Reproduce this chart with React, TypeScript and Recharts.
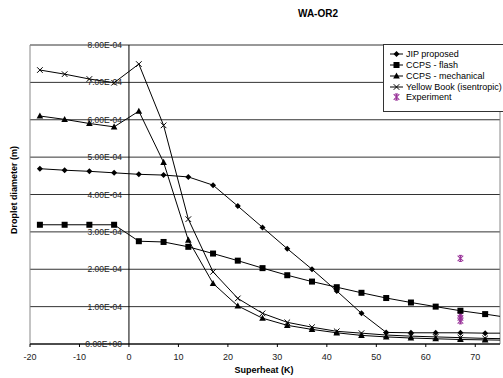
import { ComposedChart, Line, Scatter, XAxis, YAxis, CartesianGrid, ReferenceLine, Legend } from 'recharts';

const superheat = [-18, -13, -8, -3, 2, 7, 12, 17, 22, 27, 32, 37, 42, 47, 52, 57, 62, 67, 72, 77];
const jipProposed = [4.69e-4, 4.65e-4, 4.62e-4, 4.58e-4, 4.54e-4, 4.52e-4, 4.47e-4, 4.25e-4, 3.69e-4, 3.12e-4, 2.55e-4, 2.0e-4, 1.42e-4, 0.82e-4, 0.31e-4, 0.3e-4, 0.3e-4, 0.3e-4, 0.29e-4, 0.29e-4];
const ccpsFlash = [3.19e-4, 3.19e-4, 3.19e-4, 3.19e-4, 2.75e-4, 2.73e-4, 2.6e-4, 2.42e-4, 2.23e-4, 2.03e-4, 1.84e-4, 1.67e-4, 1.52e-4, 1.37e-4, 1.23e-4, 1.11e-4, 1.0e-4, 0.89e-4, 0.8e-4, 0.7e-4];
const ccpsMechanical = [6.1e-4, 6.01e-4, 5.9e-4, 5.81e-4, 6.23e-4, 4.86e-4, 2.78e-4, 1.62e-4, 1.02e-4, 0.69e-4, 0.5e-4, 0.39e-4, 0.3e-4, 0.23e-4, 0.19e-4, 0.16e-4, 0.14e-4, 0.12e-4, 0.11e-4, 0.1e-4];
const yellowBook = [7.33e-4, 7.22e-4, 7.09e-4, 6.99e-4, 7.49e-4, 5.85e-4, 3.34e-4, 1.93e-4, 1.22e-4, 0.82e-4, 0.58e-4, 0.45e-4, 0.34e-4, 0.29e-4, 0.24e-4, 0.21e-4, 0.19e-4, 0.17e-4, 0.15e-4, 0.14e-4];

const experimentX = [67, 67, 67, 67];
const experimentY = [2.29e-4, 0.78e-4, 0.7e-4, 0.62e-4];

const seriesNames = ['JIP proposed', 'CCPS - flash', 'CCPS - mechanical', 'Yellow Book (isentropic)', 'Experiment'];
const xTicks = [-20, -10, 0, 10, 20, 30, 40, 50, 60, 70];
const yTicks = [0, 1e-4, 2e-4, 3e-4, 4e-4, 5e-4, 6e-4, 7e-4, 8e-4];

const X_MIN = -20;
const X_MAX = 75;
const W = 503;
const H = 378;
const PLOT_LEFT = 30;
const PLOT_RIGHT = 500;

const rows = superheat.map((sh, i) => ({
  sh,
  jip: jipProposed[i],
  flash: ccpsFlash[i],
  mech: ccpsMechanical[i],
  yb: yellowBook[i],
}));

const experiment = experimentX.map((sh, i) => ({ sh, exp: experimentY[i] }));

const FONT = '"Liberation Sans", Arial, sans-serif';
const PURPLE = '#993399';

function fmtExp(v: number) {
  if (v === 0) return '0.00E+00';
  const [m, e] = v.toExponential(2).split('e');
  const n = parseInt(e, 10);
  const sign = n < 0 ? '-' : '+';
  return `${m}E${sign}${String(Math.abs(n)).padStart(2, '0')}`;
}

type MarkerKind = 'diamond' | 'square' | 'triangle' | 'cross' | 'star';

function Marker({ kind, cx, cy }: { kind: MarkerKind; cx: number; cy: number }) {
  if (cx == null || cy == null) return null;
  switch (kind) {
    case 'diamond':
      return <polygon points={`${cx},${cy - 3} ${cx + 3},${cy} ${cx},${cy + 3} ${cx - 3},${cy}`} fill="#000" />;
    case 'square':
      return <rect x={cx - 3} y={cy - 3} width={6} height={6} fill="#000" />;
    case 'triangle':
      return <polygon points={`${cx},${cy - 3.5} ${cx + 3.3},${cy + 2.6} ${cx - 3.3},${cy + 2.6}`} fill="#000" />;
    case 'cross':
      return (
        <g stroke="#000" strokeWidth={1}>
          <line x1={cx - 2.8} y1={cy - 2.8} x2={cx + 2.8} y2={cy + 2.8} />
          <line x1={cx - 2.8} y1={cy + 2.8} x2={cx + 2.8} y2={cy - 2.8} />
        </g>
      );
    case 'star':
      return (
        <g stroke={PURPLE} strokeWidth={1.1}>
          <line x1={cx - 2.8} y1={cy - 2.8} x2={cx + 2.8} y2={cy + 2.8} />
          <line x1={cx - 2.8} y1={cy + 2.8} x2={cx + 2.8} y2={cy - 2.8} />
          <line x1={cx} y1={cy - 3.2} x2={cx} y2={cy + 3.2} />
          <line x1={cx - 1.5} y1={cy - 3} x2={cx + 1.5} y2={cy - 3} />
          <line x1={cx - 1.5} y1={cy + 3} x2={cx + 1.5} y2={cy + 3} />
        </g>
      );
  }
  return null;
}

const dotFor = (kind: MarkerKind) => (props: any) => (
  <Marker key={`${kind}-${props.index}`} kind={kind} cx={props.cx} cy={props.cy} />
);

const markerByName: Record<string, MarkerKind> = {
  'JIP proposed': 'diamond',
  'CCPS - flash': 'square',
  'CCPS - mechanical': 'triangle',
  'Yellow Book (isentropic)': 'cross',
  Experiment: 'star',
};

function LegendBox({ payload }: { payload?: Array<{ value: string }> }) {
  const items = [...(payload || [])].sort(
    (a, b) => seriesNames.indexOf(a.value) - seriesNames.indexOf(b.value)
  );
  return (
    <div
      style={{
        background: '#fff',
        border: '1px solid #333',
        padding: '4px 0 8px 0',
        fontFamily: FONT,
        fontSize: 9,
        color: '#000',
      }}
    >
      {items.map((p) => {
        const kind = markerByName[p.value];
        return (
          <div key={p.value} style={{ display: 'flex', alignItems: 'center', height: 10.75 }}>
            <svg width={20} height={10} style={{ marginLeft: 5, flex: 'none' }}>
              {kind !== 'star' && <line x1={1} y1={5} x2={14} y2={5} stroke="#000" strokeWidth={1} />}
              <Marker kind={kind} cx={7.5} cy={5} />
            </svg>
            <span style={{ marginLeft: -3, whiteSpace: 'nowrap' }}>{p.value}</span>
          </div>
        );
      })}
    </div>
  );
}

function YTick(props: any) {
  const { y, payload } = props;
  const x0 = PLOT_LEFT + ((0 - X_MIN) / (X_MAX - X_MIN)) * (PLOT_RIGHT - PLOT_LEFT);
  return (
    <text x={x0 - 7} y={y} dy={3} textAnchor="end" fontSize={8.5} fontFamily={FONT} fill="#222">
      {fmtExp(payload.value)}
    </text>
  );
}

export default function App() {
  return (
    <div style={{ position: 'absolute', left: 0, top: 0, width: W, height: H, background: '#fff', overflow: 'hidden' }}>
      <div
        style={{
          position: 'absolute',
          left: 318,
          top: 13,
          transform: 'translate(-50%, -50%)',
          fontFamily: FONT,
          fontWeight: 'bold',
          fontSize: 10,
          whiteSpace: 'nowrap',
        }}
      >
        WA-OR2
      </div>
      <div
        style={{
          position: 'absolute',
          left: 14,
          top: 190,
          transform: 'translate(-50%, -50%) rotate(-90deg)',
          fontFamily: FONT,
          fontWeight: 'bold',
          fontSize: 9,
          whiteSpace: 'nowrap',
        }}
      >
        Droplet diameter (m)
      </div>
      <div
        style={{
          position: 'absolute',
          left: 264,
          top: 370,
          transform: 'translate(-50%, -50%)',
          fontFamily: FONT,
          fontWeight: 'bold',
          fontSize: 9,
          whiteSpace: 'nowrap',
        }}
      >
        Superheat (K)
      </div>
      <ComposedChart
        width={W}
        height={H}
        data={rows}
        margin={{ top: 45, right: W - PLOT_RIGHT, bottom: 14, left: 0 }}
        style={{ position: 'absolute', left: 0, top: 0 }}
      >
        <CartesianGrid vertical={false} stroke="#333" strokeWidth={1} />
        <XAxis
          dataKey="sh"
          type="number"
          domain={[X_MIN, X_MAX]}
          ticks={xTicks}
          allowDataOverflow
          height={20}
          tickSize={3}
          tickMargin={7}
          axisLine={{ stroke: '#000' }}
          tickLine={{ stroke: '#000' }}
          tick={{ fontSize: 9, fontFamily: FONT, fill: '#222' }}
        />
        <YAxis
          type="number"
          domain={[0, 8e-4]}
          ticks={yTicks}
          width={PLOT_LEFT}
          interval={0}
          axisLine={false}
          tickLine={false}
          tick={YTick}
        />
        <ReferenceLine x={X_MIN} stroke="#888" />
        <ReferenceLine x={X_MAX} stroke="#888" />
        <ReferenceLine x={0} stroke="#000" />
        <Line name="JIP proposed" dataKey="jip" stroke="#000" strokeWidth={1} dot={dotFor('diamond')} activeDot={false} isAnimationActive={false} />
        <Line name="CCPS - flash" dataKey="flash" stroke="#000" strokeWidth={1} dot={dotFor('square')} activeDot={false} isAnimationActive={false} />
        <Line name="CCPS - mechanical" dataKey="mech" stroke="#000" strokeWidth={1} dot={dotFor('triangle')} activeDot={false} isAnimationActive={false} />
        <Line name="Yellow Book (isentropic)" dataKey="yb" stroke="#000" strokeWidth={1} dot={dotFor('cross')} activeDot={false} isAnimationActive={false} />
        <Scatter
          name="Experiment"
          data={experiment}
          dataKey="exp"
          fill={PURPLE}
          shape={(p: any) => <Marker kind="star" cx={p.cx} cy={p.cy} />}
          isAnimationActive={false}
        />
        <Legend
          layout="vertical"
          align="center"
          verticalAlign="middle"
          content={<LegendBox />}
          wrapperStyle={{ left: 383, top: 44, width: 125, right: 'auto', bottom: 'auto' }}
        />
      </ComposedChart>
    </div>
  );
}
